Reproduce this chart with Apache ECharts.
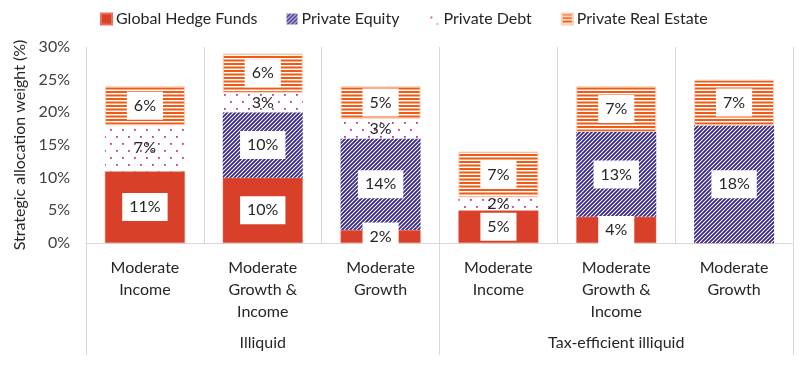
<!DOCTYPE html>
<html>
<head>
<meta charset="utf-8">
<script src="https://cdn.jsdelivr.net/npm/echarts@6/dist/echarts.min.js"></script>
<style>html,body{margin:0;padding:0;background:#fff}#c{width:800px;height:365px}</style>
</head>
<body>
<div id="c"></div>
<script>
const categories = ['Moderate\nIncome', 'Moderate\nGrowth &\nIncome', 'Moderate\nGrowth', 'Moderate\nIncome', 'Moderate\nGrowth &\nIncome', 'Moderate\nGrowth'];
const groups = ['Illiquid', 'Tax-efficient illiquid'];
const seriesNames = ['Global Hedge Funds', 'Private Equity', 'Private Debt', 'Private Real Estate'];
const hedgeFunds = [11, 10, 2, 5, 4, 0];
const privateEquity = [0, 10, 14, 0, 13, 18];
const privateDebt = [7, 3, 3, 2, 0, 0];
const privateRealEstate = [6, 6, 5, 7, 7, 7];
const yMin = 0, yMax = 30, yStep = 5;

const FONT = 'Lato, "Noto Sans", sans-serif';
const TEXT = '#262626';

function makeCanvas(w, h, draw) {
  const c = document.createElement('canvas');
  c.width = w; c.height = h;
  const ctx = c.getContext('2d');
  ctx.fillStyle = '#ffffff';
  ctx.fillRect(0, 0, w, h);
  draw(ctx);
  return c;
}
const hatch = makeCanvas(4, 4, ctx => {
  ctx.strokeStyle = '#37278c';
  ctx.lineWidth = 1.8;
  ctx.beginPath();
  ctx.moveTo(-1, 5); ctx.lineTo(5, -1);
  ctx.moveTo(-1, 1); ctx.lineTo(1, -1);
  ctx.moveTo(3, 5); ctx.lineTo(5, 3);
  ctx.stroke();
});
const dots = makeCanvas(12, 14, ctx => {
  ctx.fillStyle = '#c2379c';
  ctx.fillRect(2, 3, 1.8, 1.8);
  ctx.fillRect(8, 10, 1.8, 1.8);
});
const stripes = makeCanvas(4, 7, ctx => {
  ctx.fillStyle = '#f05a14';
  ctx.fillRect(0, 0, 4, 2);
  ctx.fillRect(0, 3.5, 4, 2);
});

function dataOf(arr) {
  return arr.map(v => ({ value: v, label: { show: v > 0 } }));
}
const boxLabel = {
  show: true, position: 'inside', formatter: '{c}%',
  fontFamily: FONT, fontSize: 16, color: TEXT,
  backgroundColor: '#ffffff', padding: [6, 7]
};
const plainLabel = {
  show: true, position: 'inside', formatter: '{c}%',
  fontFamily: FONT, fontSize: 16, color: TEXT
};

const chart = echarts.init(document.getElementById('c'), null, { renderer: 'canvas' });
chart.setOption({
  animation: false,
  backgroundColor: '#ffffff',
  textStyle: { fontFamily: FONT },
  legend: {
    data: seriesNames,
    left: 95, top: 6,
    itemWidth: 11, itemHeight: 11, itemGap: 29,
    icon: 'rect',
    textStyle: { fontFamily: FONT, fontSize: 16, color: TEXT, padding: [0, 0, 0, -1] }
  },
  grid: { left: 86, right: 7, top: 47, bottom: 122, containLabel: false },
  xAxis: [{
    type: 'category', data: categories,
    axisLine: { show: true, lineStyle: { color: '#d9d9d9', width: 1 } },
    axisTick: { show: false },
    splitLine: { show: true, interval: 0, lineStyle: { color: '#d9d9d9', width: 1 } },
    axisLabel: { interval: 0, margin: 14, fontFamily: FONT, fontSize: 16, color: TEXT, lineHeight: 22 }
  }, {
    type: 'category', data: groups, position: 'bottom', gridIndex: 0,
    axisLine: { show: false },
    axisTick: { show: true, length: 112, lineStyle: { color: '#d9d9d9', width: 1 } },
    splitLine: { show: false },
    axisLabel: { interval: 0, margin: 92, fontFamily: FONT, fontSize: 16, color: TEXT }
  }],
  yAxis: {
    type: 'value', min: yMin, max: yMax, interval: yStep,
    name: 'Strategic allocation weight (%)', nameLocation: 'middle', nameGap: 48,
    nameTextStyle: { fontFamily: FONT, fontSize: 16, color: TEXT },
    axisLine: { show: false }, axisTick: { show: false }, splitLine: { show: false },
    axisLabel: { formatter: '{value}%', margin: 16, fontFamily: FONT, fontSize: 16, color: '#404040' }
  },
  series: [
    { name: seriesNames[0], type: 'bar', stack: 'a', barWidth: 80, data: dataOf(hedgeFunds),
      itemStyle: { color: '#d8402a', borderColor: '#e8705a', borderWidth: 0.5 }, label: boxLabel },
    { name: seriesNames[1], type: 'bar', stack: 'a', data: dataOf(privateEquity),
      itemStyle: { color: { image: hatch, repeat: 'repeat' } }, label: boxLabel },
    { name: seriesNames[2], type: 'bar', stack: 'a', data: dataOf(privateDebt),
      itemStyle: { color: { image: dots, repeat: 'repeat' } }, label: plainLabel },
    { name: seriesNames[3], type: 'bar', stack: 'a', data: dataOf(privateRealEstate),
      itemStyle: { color: { image: stripes, repeat: 'repeat' }, borderColor: '#fbd0b8', borderWidth: 1 }, label: boxLabel }
  ]
});
</script>
</body>
</html>
